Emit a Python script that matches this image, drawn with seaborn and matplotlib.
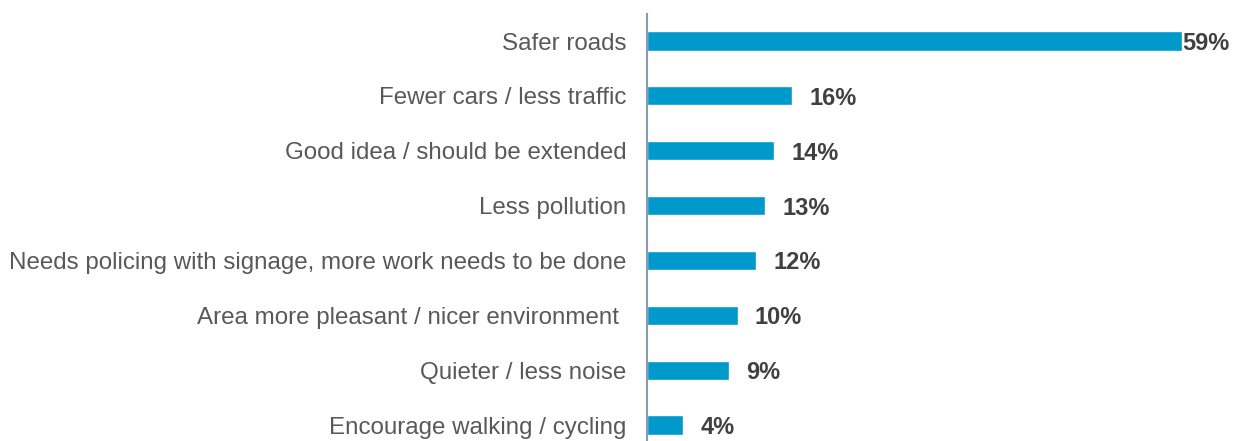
import matplotlib
matplotlib.use("Agg")
import matplotlib.pyplot as plt
import seaborn as sns
import pandas as pd

categories = [
    "Safer roads",
    "Fewer cars / less traffic",
    "Good idea / should be extended",
    "Less pollution",
    "Needs policing with signage, more work needs to be done",
    "Area more pleasant / nicer environment ",
    "Quieter / less noise",
    "Encourage walking / cycling",
]
values = [59, 16, 14, 13, 12, 10, 9, 4]
value_labels = ["59%", "16%", "14%", "13%", "12%", "10%", "9%", "4%"]

sns.set_theme(style="white")
plt.rcParams['font.family'] = ['Liberation Sans', 'DejaVu Sans']

df = pd.DataFrame({"cat": categories, "val": values})

fig = plt.figure(figsize=(12.41, 4.41), dpi=100)
ax = fig.add_axes([647/1241, 0.0, 1 - 647/1241, 427.4/441])

sns.barplot(data=df, x="val", y="cat", orient="h", color="#0099CC",
            saturation=1, width=0.35, ax=ax)

ax.set_xlim(0, 65.5)
ax.set_ylim(7.29, -0.5)
ax.set_xlabel("")
ax.set_ylabel("")
ax.set_xticks([])
for s in ["top", "right", "bottom"]:
    ax.spines[s].set_visible(False)
ax.spines["left"].set_color("#8a9ab0")
ax.spines["left"].set_linewidth(1.5)
ax.tick_params(axis="y", length=0, pad=15, labelsize=17.35, labelcolor="#595959")

vmax = max(values)
for i, (v, lab) in enumerate(zip(values, value_labels)):
    off = 0.05 if v == vmax else 1.9
    ax.text(v + off, i, lab, va="center_baseline", ha="left", fontsize=17,
            fontweight="bold", color="#404040", clip_on=False)

fig.savefig("out.png", dpi=100)
